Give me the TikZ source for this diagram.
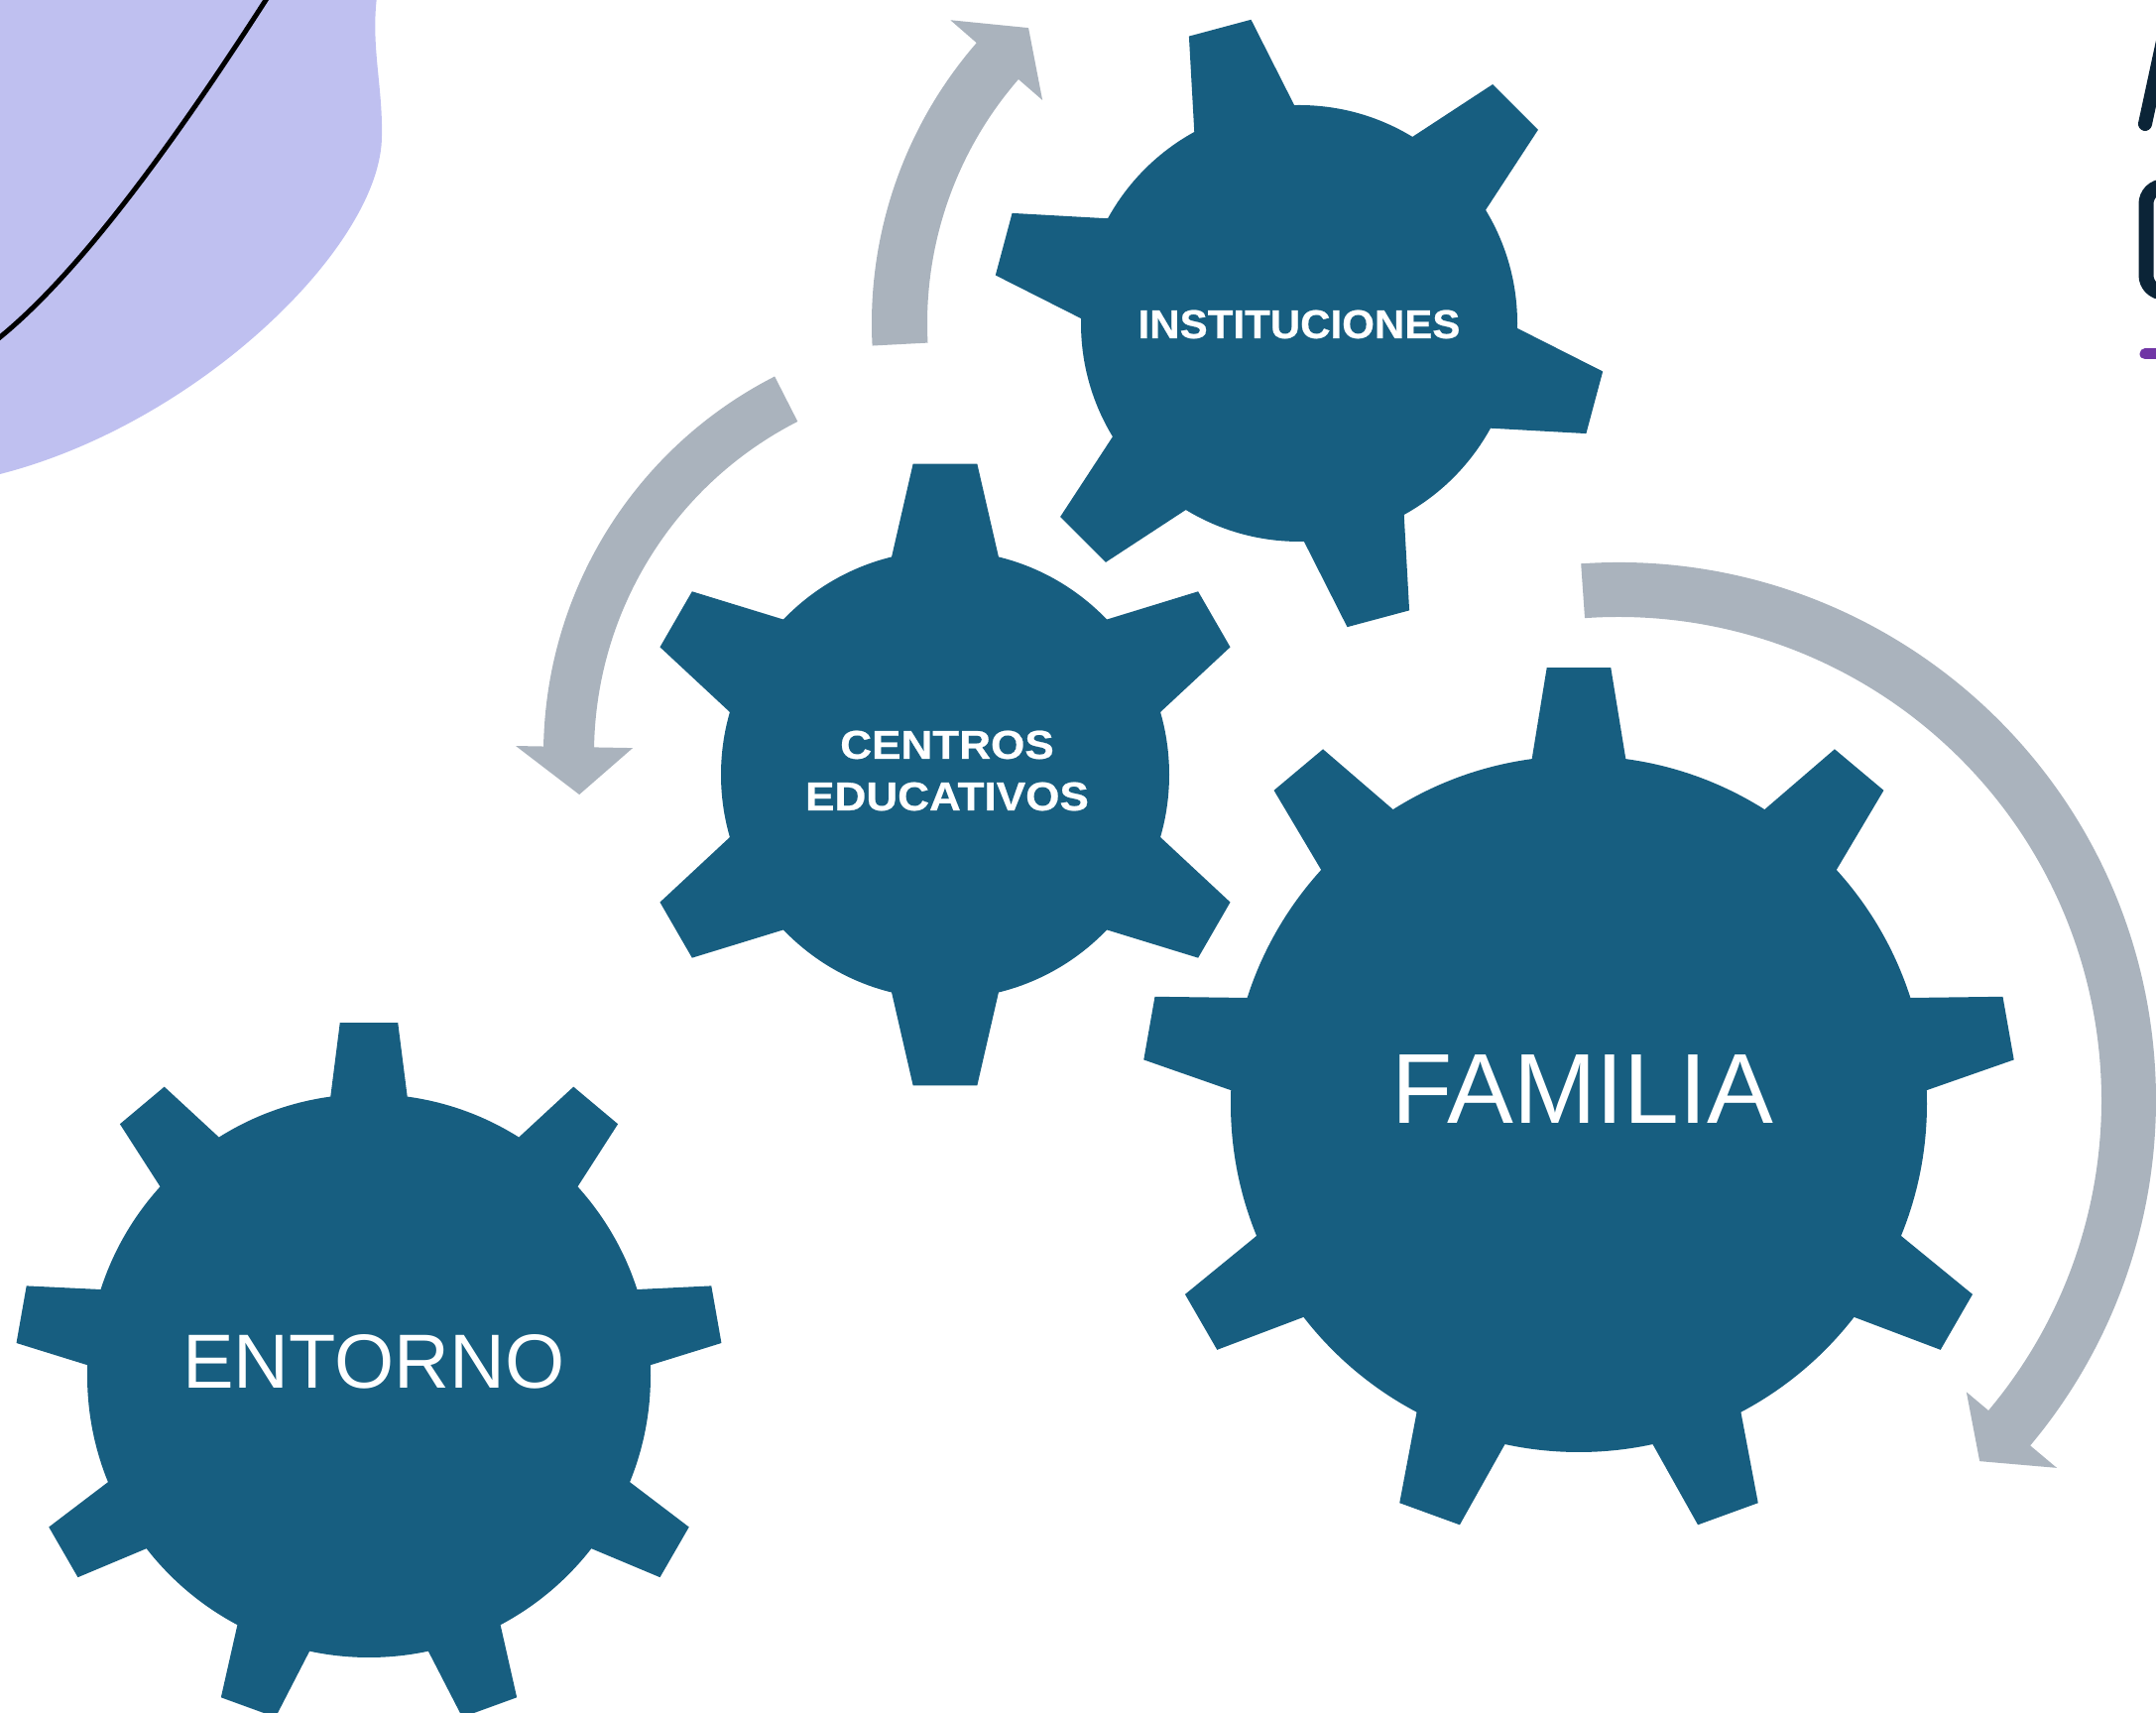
\documentclass[tikz,border=0pt]{standalone}
\usepackage{fontspec}
\newfontfamily\lsans{Liberation Sans}
\newfontfamily\instfont[FakeStretch=1.04,FakeBold=0.6]{Liberation Sans Bold}
\newfontfamily\centfont[FakeStretch=1.09,FakeBold=0.6]{Liberation Sans Bold}
\definecolor{gearblue}{RGB}{23,94,128}
\definecolor{arrowgray}{RGB}{170,179,189}
\definecolor{blobcol}{RGB}{191,192,240}
\definecolor{navy}{RGB}{11,36,55}
\definecolor{purp}{RGB}{112,53,165}
\tikzset{
  gearfill/.style={fill=gearblue},
  arrowfill/.style={fill=arrowgray},
  glbl/.style={text=white, inner sep=0pt, align=center},
}
\newcommand{\drawgear}[8]{%
  \begin{scope}[shift={(#1,#2)}]
    \fill[gearfill] (0,0) circle[radius=#5];
    \foreach \k in {1,...,#3}{%
      \pgfmathsetmacro\th{#4+360/#3*(\k-1)}%
      \pgfmathsetmacro\ba{\th-#7}\pgfmathsetmacro\bb{\th+#7}%
      \pgfmathsetmacro\ta{\th-#8}\pgfmathsetmacro\tb{\th+#8}%
      \pgfmathsetmacro\rr{#5-3}%
      \fill[gearfill] (\ba:\rr) -- (\ta:#6) -- (\tb:#6) -- (\bb:\rr) -- cycle;
    }
  \end{scope}}
\begin{document}
\begin{tikzpicture}[x=0.01cm,y=0.01cm]
\useasboundingbox (0,0) rectangle (2174,1727);
\clip (0,0) rectangle (2174,1727);
% background blob
\fill[blobcol] (0,1730) -- (380,1730) .. controls (374,1680) and (386,1640) .. (385,1590)
  .. controls (385,1480) and (200,1300) .. (0,1249) -- cycle;
\draw[black, line width=1.42pt] (-5,1383) .. controls (80,1450) and (180,1590) .. (270,1730);
% top-right partial title
\draw[navy, line width=3.98pt, line cap=round] (2163,1602) -- (2185,1704);
\draw[navy, line width=4.27pt, rounded corners=5pt] (2190,1539) -- (2164,1539) -- (2164,1432) -- (2190,1432);
\draw[purp, line width=3.13pt, line cap=round] (2163,1370) -- (2195,1370);
% arrows
\begin{scope}[shift={(1310,1401)}]
  \fill[arrowfill] (183:431) arc[start angle=183, end angle=139, radius=431]
    -- (139:466) -- (132.5:404) -- (139:343) -- (139:375)
    arc[start angle=139, end angle=183, radius=375] -- cycle;
\end{scope}
\begin{scope}[shift={(975,967)}]
  \fill[arrowfill] (117:427) arc[start angle=117, end angle=179, radius=427]
    -- (179:455) -- (186:393) -- (179:337) -- (179:376)
    arc[start angle=179, end angle=117, radius=376] -- cycle;
\end{scope}
\begin{scope}[shift={(1632,618)}]
  \fill[arrowfill] (94:542) arc[start angle=94, end angle=-40, radius=542]
    -- (-40:577) -- (-45:515) -- (-40:458) -- (-40:487)
    arc[start angle=-40, end angle=94, radius=487] -- cycle;
\end{scope}
% gears: cx, cy, n, start, Rbody, Rout, base half-angle, tip half-angle
\drawgear{1310}{1401}{6}{105}{220}{310}{14.1}{6.0}
\drawgear{953}{946}{6}{90}{226}{315}{14.2}{5.9}
\drawgear{1592}{614}{9}{90}{351}{441}{7.9}{4.2}
\drawgear{372}{340}{9}{90}{284}{357}{8.0}{4.7}
% labels
\node[glbl, font={\instfont\fontsize{11.5}{14}\selectfont}] (inst) at (1310,1400) {INSTITUCIONES};
\node[glbl, font={\centfont\fontsize{11.5}{14.8}\selectfont}] (cent) at (955,950) {CENTROS\\EDUCATIVOS};
\node[glbl, font={\lsans\fontsize{28.5}{34}\selectfont}] (fam) at (1596,629) {FAMILIA};
\node[glbl, font={\lsans\fontsize{22}{26}\selectfont}] (ent) at (377,354) {ENTORNO};
\end{tikzpicture}
\end{document}
